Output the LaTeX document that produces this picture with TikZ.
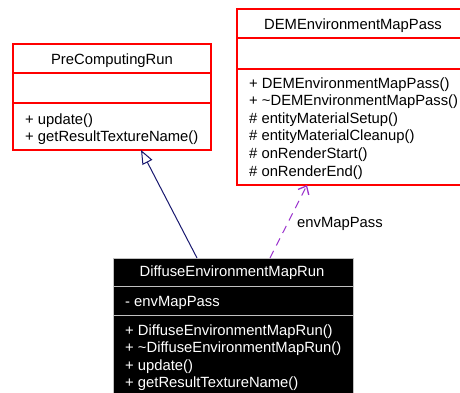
\documentclass[tikz,border=0pt]{standalone}
\usepackage{fontspec}
\setmainfont{Liberation Sans}
\usetikzlibrary{arrows.meta,calc}
\definecolor{umlred}{HTML}{FF0000}
\definecolor{inhblue}{HTML}{191970}
\definecolor{usepurple}{HTML}{9A32CD}
\definecolor{divgray}{HTML}{C0C0C0}
\begin{document}
\begin{tikzpicture}[x=1pt,y=-1pt,
  txt/.style={anchor=base west,inner sep=0pt,font=\fontsize{14.8}{17}\selectfont},
  ttl/.style={anchor=base,inner sep=0pt,font=\fontsize{14.8}{17}\selectfont},
  wtxt/.style={txt,text=white},
  wttl/.style={ttl,text=white},
  redbox/.style={draw=umlred,line width=1.2pt,fill=white,anchor=north west,inner sep=0pt,outer sep=0pt},
  blackbox/.style={draw=divgray,line width=1pt,fill=black,anchor=north west,inner sep=0pt,outer sep=0pt},
  reddiv/.style={draw=umlred,line width=1.2pt},
  graydiv/.style={draw=divgray,line width=1pt},
  inherit/.style={draw=inhblue,line width=1pt,-{Triangle[open,length=14pt,width=11pt,fill=white]}},
  useline/.style={draw=usepurple,line width=1pt,dash pattern=on 8pt off 6pt,-{Straight Barb[length=7pt,width=12pt,line width=1.3pt]}}
]
\useasboundingbox (0,0) rectangle (460,392);
\fill[white] (0,0) rectangle (460,392);

% PreComputingRun
\node[redbox,minimum width=198pt,minimum height=106pt] (pre) at (13,44) {};
\draw[reddiv] (13,73) -- (211,73);
\draw[reddiv] (13,103) -- (211,103);
\node[ttl] (preT) at (112,64) {PreComputingRun};
\node[txt] (preM1) at (25,124) {+ update()};
\node[txt] (preM2) at (25,141.5) {+ getResultTextureName()};

% DEMEnvironmentMapPass
\node[redbox,minimum width=233pt,minimum height=176pt] (dem) at (237,9) {};
\draw[reddiv] (237,38) -- (470,38);
\draw[reddiv] (237,69) -- (470,69);
\node[ttl] (demT) at (353,29) {DEMEnvironmentMapPass};
\node[txt] (demM1) at (249,88) {+ DEMEnvironmentMapPass()};
\node[txt] (demM2) at (249,105.6) {+ \textasciitilde DEMEnvironmentMapPass()};
\node[txt] (demM3) at (249,123.2) {\# entityMaterialSetup()};
\node[txt] (demM4) at (249,140.8) {\# entityMaterialCleanup()};
\node[txt] (demM5) at (249,158.4) {\# onRenderStart()};
\node[txt] (demM6) at (249,176) {\# onRenderEnd()};

% DiffuseEnvironmentMapRun
\node[blackbox,minimum width=240pt,minimum height=140pt] (diff) at (113,258) {};
\draw[graydiv] (113,286) -- (353,286);
\draw[graydiv] (113,315) -- (353,315);
\node[wttl] (diffT) at (232,276) {DiffuseEnvironmentMapRun};
\node[wtxt] (diffA1) at (125,306) {- envMapPass};
\node[wtxt] (diffM1) at (125,335) {+ DiffuseEnvironmentMapRun()};
\node[wtxt] (diffM2) at (125,352.5) {+ \textasciitilde DiffuseEnvironmentMapRun()};
\node[wtxt] (diffM3) at (125,370) {+ update()};
\node[wtxt] (diffM4) at (125,387.5) {+ getResultTextureName()};

% connectors
\coordinate (inhS) at ($(diff.north west)+(84,0)$);
\coordinate (inhT) at ($(pre.south west)+(128,0)$);
\draw[inherit] (inhS) -- (inhT);
\coordinate (useS) at ($(diff.north west)+(157,0)$);
\coordinate (useT) at ($(dem.south west)+(70,0)$);
\draw[useline] (useS) -- (useT);
\node[txt] (useL) at (297,227) {envMapPass};
\end{tikzpicture}
\end{document}
